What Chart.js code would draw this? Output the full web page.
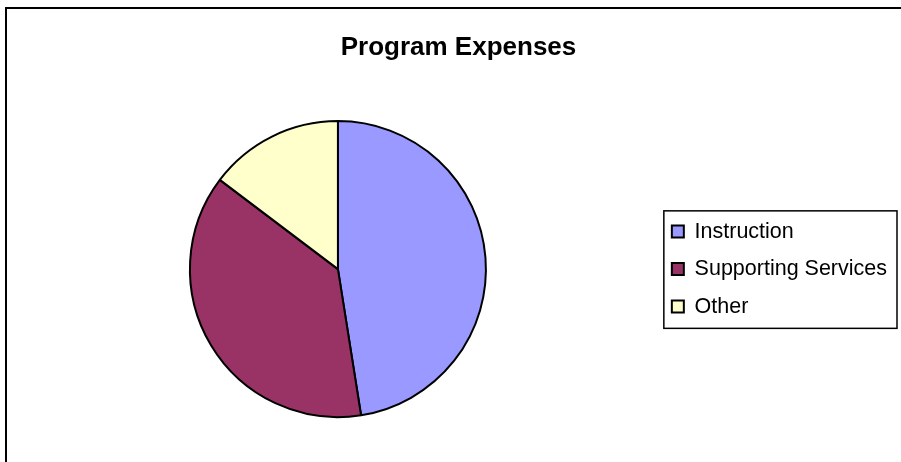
<!DOCTYPE html>
<html>
<head>
<meta charset="utf-8">
<script src="https://cdn.jsdelivr.net/npm/chart.js@4/dist/chart.umd.min.js"></script>
<style>
  html, body { margin: 0; padding: 0; background: #fff; }
  #wrap { position: relative; width: 901px; height: 462px; overflow: hidden; }
  #frame { position: absolute; left: 5px; top: 7px; width: 1000px; height: 1000px;
           border-left: 2px solid #000; border-top: 2px solid #000; }
  #c { position: absolute; left: 0; top: 0; }
</style>
</head>
<body>
<div id="wrap">
  <div id="frame"></div>
  <canvas id="c" width="901" height="462"></canvas>
</div>
<script>
// chart data
const categories = ["Instruction", "Supporting Services", "Other"];
const shares = [47.5, 37.8, 14.7];
const sliceColors = ["#9999FF", "#993366", "#FFFFCC"];

const FONT = "'Liberation Sans', Arial, sans-serif";

// draws the black frame round the legend
const legendFrame = {
  id: "legendFrame",
  afterDraw(chart) {
    const boxes = chart.legend && chart.legend.legendHitBoxes;
    if (!boxes || !boxes.length) return;
    const first = boxes[0];
    const last = boxes[boxes.length - 1];
    const right = Math.max(...boxes.map((b) => b.left + b.width));
    const x = first.left - 8;
    const y = first.top - 10;
    const w = right + 10 - x;
    const h = last.top + last.height + 11 - y;
    const ctx = chart.ctx;
    ctx.save();
    ctx.strokeStyle = "#000";
    ctx.lineWidth = 1.5;
    ctx.strokeRect(x, y, w, h);
    ctx.restore();
  },
};

new Chart(document.getElementById("c"), {
  type: "pie",
  data: {
    labels: categories,
    datasets: [
      {
        data: shares,
        backgroundColor: sliceColors,
        borderColor: "#000",
        borderWidth: 2,
      },
    ],
  },
  options: {
    responsive: false,
    animation: false,
    radius: 148,
    layout: {
      padding: { left: 20, right: 4, top: 22, bottom: 26 },
    },
    plugins: {
      title: {
        display: true,
        text: "Program Expenses",
        color: "#000",
        font: { family: FONT, size: 26, weight: "bold" },
        padding: { top: 10, bottom: 39 },
      },
      legend: {
        position: "right",
        fullSize: false,
        labels: {
          color: "#000",
          font: { family: FONT, size: 21.5 },
          boxWidth: 12,
          boxHeight: 12,
          padding: 16,
        },
      },
      tooltip: { enabled: false },
    },
  },
  plugins: [legendFrame],
});
</script>
</body>
</html>
